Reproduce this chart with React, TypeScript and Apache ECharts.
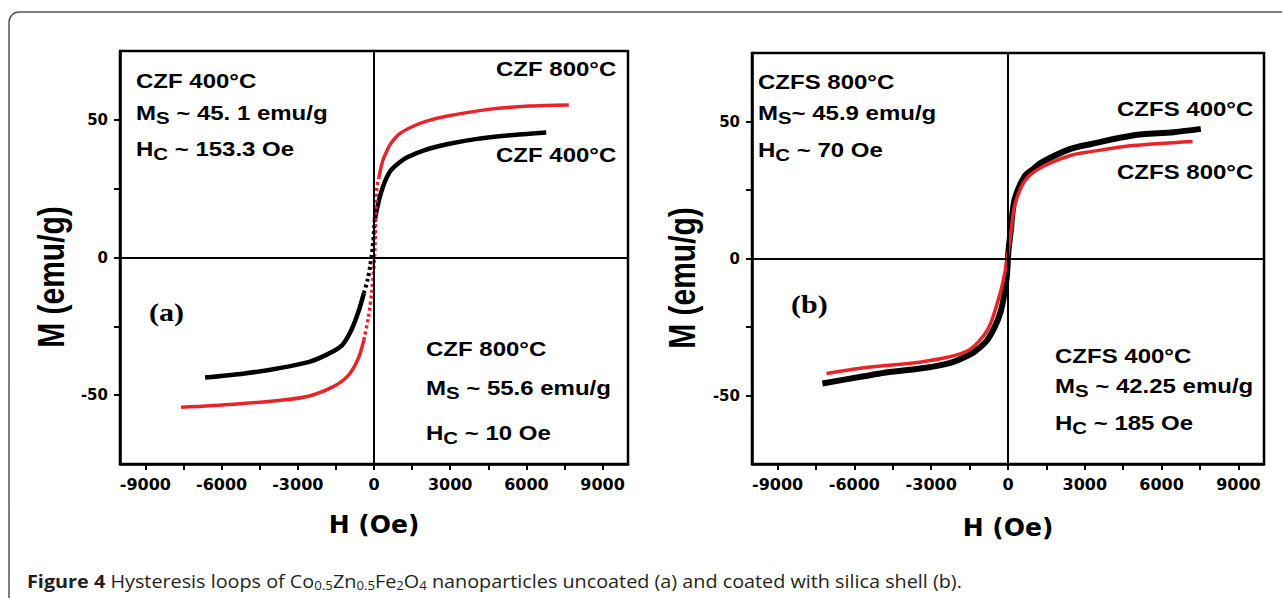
import React, { useEffect, useRef } from "react";
import * as echarts from "echarts";

// Axis ticks
const hLabelValues = [-9000, -6000, -3000, 0, 3000, 6000, 9000];
const hTickValues = [-9000, -7500, -6000, -4500, -3000, -1500, 0, 1500, 3000, 4500, 6000, 7500, 9000];
const mLabelValues = [-50, 0, 50];
const mTickValues = [-50, -25, 0, 25, 50];

// (a) uncoated CZF 400 °C (black)
const czf400H = [-6650, -5100, -3800, -2550, -1800, -1260, -900, -620, -400, -250, -150, -50, 30, 150, 270, 450, 670, 1000, 1310, 2000, 2920, 4000, 5500, 6780];
const czf400M = [-43.6, -42.1, -40.3, -37.9, -35.0, -31.9, -26.5, -19.9, -13.0, -8.0, -3.0, 4.0, 13.7, 19.0, 23.3, 28.0, 31.7, 34.5, 36.4, 39.0, 41.2, 43.0, 44.5, 45.4];

// (a) uncoated CZF 800 °C (red)
const czf800H = [-7600, -5500, -3500, -2500, -1600, -1000, -620, -400, -220, -90, 30, 100, 190, 350, 510, 670, 1000, 1500, 2100, 2900, 4500, 6100, 7670];
const czf800M = [-54.4, -53.3, -51.7, -50.2, -46.9, -42.7, -36.7, -30.0, -21.7, -12.5, 2.0, 24.0, 29.0, 35.3, 38.8, 41.5, 44.9, 47.5, 49.6, 51.4, 53.8, 55.0, 55.4];

// (b) coated CZFS 400 °C (black)
const czfs400H = [-7250, -5640, -4830, -3210, -2250, -1600, -1275, -790, -300, -60, 20, 100, 260, 660, 990, 1310, 2440, 3250, 4870, 6480, 7530];
const czfs400M = [-45.6, -43.0, -41.7, -39.9, -38.1, -35.6, -33.8, -29.5, -19.8, -7.6, 3.0, 9.5, 21.7, 30.2, 32.7, 35.1, 40.0, 41.8, 44.9, 46.1, 47.3];

// (b) coated CZFS 800 °C (red)
const czfs800H = [-7090, -5640, -3210, -1600, -790, -300, -100, 20, 120, 260, 660, 1310, 2440, 3250, 4870, 7210];
const czfs800M = [-42.0, -39.9, -37.5, -33.8, -25.9, -12.4, -4.0, 3.0, 10.0, 19.3, 28.4, 33.3, 37.6, 39.0, 41.2, 42.7];

const RED = "#e8232a";
const BLACK = "#000000";

function pts(H: number[], M: number[], from: number, to: number) {
  const out: number[][] = [];
  for (let i = from; i <= to; i++) out.push([H[i], M[i]]);
  return out;
}

function splitCurve(H: number[], M: number[], lo: number, hi: number) {
  let lastLow = 0;
  for (let i = 0; i < M.length; i++) if (M[i] <= lo) lastLow = i;
  let firstHigh = M.length - 1;
  for (let i = M.length - 1; i >= 0; i--) if (M[i] >= hi) firstHigh = i;
  return {
    low: pts(H, M, 0, lastLow),
    mid: pts(H, M, lastLow, firstHigh),
    high: pts(H, M, firstHigh, H.length - 1),
  };
}

const ANN_FONT = "'Liberation Sans', Arial, sans-serif";
const TICK_FONT = "'DejaVu Sans', sans-serif";
const CAP_FONT = "'Open Sans', sans-serif";
const CAP_COLOR = "#231f20";

function ann(text: string, x: number, y: number, rich?: boolean) {
  const style: any = {
    text,
    fontFamily: ANN_FONT,
    fontWeight: "bold",
    fontSize: 20,
    fill: "#000",
    align: "left",
    textAlign: "left",
    verticalAlign: "middle",
    textVerticalAlign: "middle",
  };
  if (rich) {
    style.rich = {
      m: { fontFamily: ANN_FONT, fontWeight: "bold", fontSize: 20, fill: "#000", color: "#000", verticalAlign: "middle" },
      s: { fontFamily: ANN_FONT, fontWeight: "bold", fontSize: 17, fill: "#000", color: "#000", verticalAlign: "middle", padding: [10, 0, 0, 0] },
    };
  }
  return { type: "text", x, y, scaleX: 1.2, silent: true, style };
}

function panelLetter(text: string, x: number, y: number) {
  return {
    type: "text",
    x,
    y,
    scaleX: 1.2,
    silent: true,
    style: {
      text,
      fontFamily: "'Liberation Serif', 'Times New Roman', serif",
      fontWeight: "bold",
      fontSize: 25,
      fill: "#000",
      align: "left",
      textAlign: "left",
      verticalAlign: "middle",
      textVerticalAlign: "middle",
    },
  };
}

function yTitle(x: number, y: number) {
  return {
    type: "text",
    x,
    y,
    rotation: Math.PI / 2,
    scaleY: 1.2,
    silent: true,
    style: {
      text: "M (emu/g)",
      fontFamily: ANN_FONT,
      fontWeight: "bold",
      fontSize: 30,
      fill: "#000",
      align: "center",
      textAlign: "center",
      verticalAlign: "middle",
      textVerticalAlign: "middle",
    },
  };
}

function xAxisDef(gridIndex: number, nameGap: number) {
  return {
    type: "value",
    gridIndex,
    min: -10000,
    max: 10000,
    name: "H (Oe)",
    nameLocation: "middle",
    nameGap,
    nameTextStyle: { fontFamily: TICK_FONT, fontWeight: "bold", fontSize: 25, color: "#000" },
    axisLine: { show: true, onZero: false, lineStyle: { color: "#000", width: 2.5 } },
    axisTick: { show: true, inside: false, length: 6, customValues: hTickValues, lineStyle: { color: "#000", width: 2 } },
    axisLabel: {
      show: true,
      customValues: hLabelValues,
      margin: 12,
      formatter: (v: number) => String(v),
      fontFamily: TICK_FONT,
      fontWeight: "bold",
      fontSize: 16,
      color: "#000",
    },
    splitLine: { show: false },
  };
}

function yAxisDef(gridIndex: number) {
  return {
    type: "value",
    gridIndex,
    min: -75,
    max: 75,
    axisLine: { show: true, onZero: false, lineStyle: { color: "#000", width: 2.5 } },
    axisTick: { show: true, inside: false, length: 6, customValues: mTickValues, lineStyle: { color: "#000", width: 2 } },
    axisLabel: {
      show: true,
      customValues: mLabelValues,
      margin: 12,
      formatter: (v: number) => String(v),
      fontFamily: TICK_FONT,
      fontWeight: "bold",
      fontSize: 15,
      color: "#000",
    },
    splitLine: { show: false },
  };
}

function lineSeries(name: string, data: number[][], idx: number, color: string, width: number, dotted?: boolean, zeroLines?: boolean) {
  const s: any = {
    name,
    type: "line",
    xAxisIndex: idx,
    yAxisIndex: idx,
    data,
    showSymbol: false,
    symbol: "none",
    smooth: 0.3,
    lineStyle: { color, width, type: dotted ? [3, 3] : "solid" },
    silent: true,
  };
  if (zeroLines) {
    s.markLine = {
      silent: true,
      symbol: ["none", "none"],
      label: { show: false },
      lineStyle: { color: "#000", width: 2, type: "solid" },
      data: [{ xAxis: 0 }, { yAxis: 0 }],
    };
  }
  return s;
}

export default function App() {
  const ref = useRef<HTMLDivElement>(null);

  useEffect(() => {
    if (!ref.current) return;
    const chart = echarts.init(ref.current, undefined, { renderer: "svg" });

    const a400 = splitCurve(czf400H, czf400M, -10, 13);
    const a800 = splitCurve(czf800H, czf800M, -22, 28);

    const option: any = {
      animation: false,
      backgroundColor: "#ffffff",
      grid: [
        { left: 120, top: 51, width: 508, height: 413, show: true, borderColor: "#000", borderWidth: 2.5, backgroundColor: "transparent" },
        { left: 752, top: 53, width: 512, height: 411, show: true, borderColor: "#000", borderWidth: 2.5, backgroundColor: "transparent" },
      ],
      xAxis: [xAxisDef(0, 48), xAxisDef(1, 51)],
      yAxis: [yAxisDef(0), yAxisDef(1)],
      series: [
        lineSeries("CZF 400°C", a400.low, 0, BLACK, 4.5, false, true),
        lineSeries("CZF 400°C", a400.mid, 0, BLACK, 4, true),
        lineSeries("CZF 400°C", a400.high, 0, BLACK, 4.5),
        lineSeries("CZF 800°C", a800.low, 0, RED, 3.5),
        lineSeries("CZF 800°C", a800.mid, 0, RED, 3.5, true),
        lineSeries("CZF 800°C", a800.high, 0, RED, 3.5),
        lineSeries("CZFS 400°C", pts(czfs400H, czfs400M, 0, czfs400H.length - 1), 1, BLACK, 6, false, true),
        lineSeries("CZFS 800°C", pts(czfs800H, czfs800M, 0, czfs800H.length - 1), 1, RED, 3.5),
      ],
      graphic: [
        {
          type: "rect",
          silent: true,
          shape: { x: 9, y: 12, width: 1300, height: 620, r: 10 },
          style: { fill: "none", stroke: "#555", lineWidth: 1.5 },
        },
        yTitle(52, 277),
        yTitle(683, 278),
        // panel (a)
        ann("CZF 400°C", 136, 81),
        ann("{m|M}{s|S}{m| ~ 45. 1 emu/g}", 136, 113, true),
        ann("{m|H}{s|C}{m| ~ 153.3 Oe}", 136, 149, true),
        ann("CZF 800°C", 496, 69),
        ann("CZF 400°C", 496, 155),
        panelLetter("(a)", 149, 312),
        ann("CZF 800°C", 426, 349),
        ann("{m|M}{s|S}{m| ~ 55.6 emu/g}", 426, 388, true),
        ann("{m|H}{s|C}{m| ~ 10 Oe}", 426, 433, true),
        // panel (b)
        ann("CZFS 800°C", 758, 82),
        ann("{m|M}{s|S}{m|~ 45.9 emu/g}", 758, 113, true),
        ann("{m|H}{s|C}{m| ~ 70 Oe}", 758, 150, true),
        ann("CZFS 400°C", 1117, 109),
        ann("CZFS 800°C", 1117, 172),
        panelLetter("(b)", 791, 304),
        ann("CZFS 400°C", 1055, 356),
        ann("{m|M}{s|S}{m| ~ 42.25 emu/g}", 1055, 386, true),
        ann("{m|H}{s|C}{m| ~ 185 Oe}", 1055, 423, true),
        // caption
        {
          type: "text",
          x: 27,
          y: 581,
          scaleX: 1.1,
          silent: true,
          style: {
            text:
              "{b|Figure 4} {n|Hysteresis loops of Co}{sub|0.5}{n|Zn}{sub|0.5}{n|Fe}{sub|2}{n|O}{sub|4}{n| nanoparticles uncoated (a) and coated with silica shell (b).}",
            fontFamily: CAP_FONT,
            fontSize: 18,
            fill: CAP_COLOR,
            align: "left",
            textAlign: "left",
            verticalAlign: "middle",
            textVerticalAlign: "middle",
            rich: {
              b: { fontFamily: CAP_FONT, fontWeight: "bold", fontSize: 18, fill: CAP_COLOR, color: CAP_COLOR, verticalAlign: "middle" },
              n: { fontFamily: CAP_FONT, fontSize: 18, fill: CAP_COLOR, color: CAP_COLOR, verticalAlign: "middle" },
              sub: { fontFamily: CAP_FONT, fontSize: 12, fill: CAP_COLOR, color: CAP_COLOR, verticalAlign: "middle", padding: [9, 0, 0, 0] },
            },
          },
        },
      ],
    };

    chart.setOption(option);
    return () => chart.dispose();
  }, []);

  return (
    <div
      ref={ref}
      style={{ position: "absolute", left: 0, top: 0, width: 1282, height: 598, background: "#fff" }}
    />
  );
}
